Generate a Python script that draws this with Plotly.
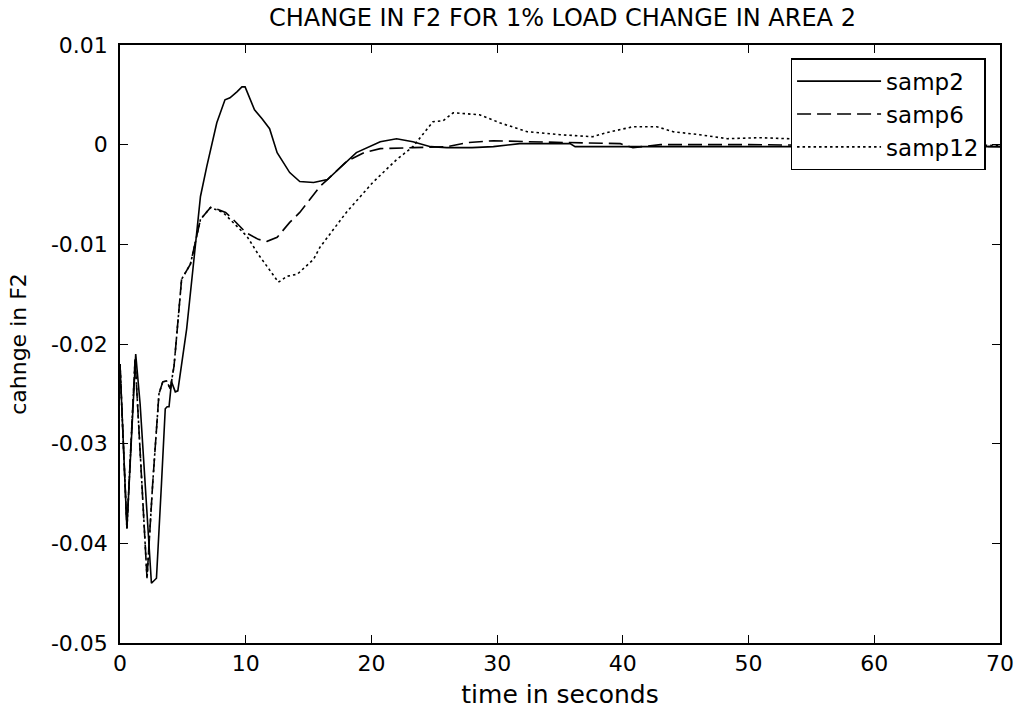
import plotly.graph_objects as go

# ---- data ----
t_samp2 = [0, 0.55, 1.25, 1.6, 2.5, 2.9, 3.3, 3.6, 3.75, 3.9, 4.1, 4.4, 4.6, 4.9, 5.3, 5.8, 6.4, 6.9, 7.7,
           8.35, 8.75, 9.3, 9.7, 9.95, 10.7, 11.3, 11.9, 12.5, 13.5, 14.3, 15.4, 16.5, 17.5, 18.8, 20.7,
           22.0, 23.3, 24.7, 26.0, 28.0, 29.7, 31.8, 35.8, 36.2, 40.8, 46, 50, 55, 60, 65, 70]
y_samp2 = [-0.022, -0.0385, -0.021, -0.026, -0.044, -0.0435, -0.034, -0.0265, -0.0263, -0.0263, -0.0238,
           -0.0248, -0.0247, -0.0218, -0.0185, -0.0125, -0.0052, -0.0022, 0.0022,
           0.0045, 0.0047, 0.0053, 0.0058, 0.0058, 0.0035, 0.0026, 0.0016, -0.0008, -0.0028, -0.0037, -0.0038,
           -0.0035, -0.0023, -0.0008, 0.0003,
           0.0006, 0.0003, -0.0002, -0.0003, -0.0003, -0.0002, 0.0001, 0.0001, -0.0002, -0.0002, -0.0002,
           -0.0002, -0.0002, -0.0002, -0.0002, -0.0002]

t_samp6 = [0, 0.55, 1.2, 2.15, 2.6, 3.1, 3.4, 3.7, 4.0, 4.3, 4.9, 5.6, 6.4, 7.2, 7.8, 8.4, 9.0, 10.0, 11.0,
           11.7, 12.5, 13.5, 14.3, 15.9, 16.5, 18.0, 19.4, 20.7, 23.3, 26.0, 27.6, 29.7, 32.4, 36.0, 39.8,
           40.8, 43.0, 50, 60, 70]
y_samp6 = [-0.022, -0.0385, -0.0215, -0.0435, -0.034, -0.025, -0.0238, -0.0237, -0.0245, -0.0222, -0.0135,
           -0.012, -0.0075, -0.0063, -0.0065, -0.0068, -0.0075, -0.0088, -0.0095,
           -0.0097, -0.0093, -0.0078, -0.0068, -0.0042, -0.0035, -0.0017, -0.0008, -0.0004, -0.0003, -0.0002,
           0.0002, 0.0004, 0.0003, 0.0002, 0.0001,
           -0.0003, 0.0, 0.0, -0.0001, -0.0002]

t_samp12 = [0, 0.55, 1.2, 2.15, 2.6, 3.1, 3.4, 3.7, 4.0, 4.3, 4.9, 5.6, 6.4, 7.2, 8.2, 9.0, 10.1, 11.0, 12.0,
            12.6, 13.3, 14.1, 15.4, 15.9, 18.0, 20.1, 22.0, 23.3, 24.9, 25.7, 26.5, 28.6, 30.2, 32.4, 35.0,
            37.6, 38.7, 40.8, 42.7, 44.0, 46.1, 48.3, 50.9, 55, 60, 65, 70]
y_samp12 = [-0.022, -0.0385, -0.0215, -0.0435, -0.034, -0.025, -0.0238, -0.0237, -0.0245, -0.0222, -0.0135,
            -0.012, -0.0075, -0.0063, -0.0068, -0.0078, -0.0092, -0.011, -0.0128,
            -0.0138, -0.0132, -0.013, -0.0115, -0.0103, -0.0068, -0.0038, -0.0015, -0.0002, 0.0023, 0.0024,
            0.0032, 0.003, 0.0022, 0.0013, 0.001,
            0.0008, 0.0012, 0.0018, 0.0018, 0.0013, 0.001, 0.0006, 0.0007, 0.0005, 0.0003, 0.0001, -0.0001]

x_tickvals = [0, 10, 20, 30, 40, 50, 60, 70]
x_ticktext = ["0", "10", "20", "30", "40", "50", "60", "70"]
y_tickvals = [0.01, 0, -0.01, -0.02, -0.03, -0.04, -0.05]
y_ticktext = ["0.01", "0", "-0.01", "-0.02", "-0.03", "-0.04", "-0.05"]

FONT = "DejaVu Sans, Verdana, sans-serif"

fig = go.Figure()
fig.add_trace(go.Scatter(x=t_samp2, y=y_samp2, mode="lines", name="samp2",
                         line=dict(color="black", width=1.6, dash="solid")))
fig.add_trace(go.Scatter(x=t_samp6, y=y_samp6, mode="lines", name="samp6",
                         line=dict(color="black", width=1.6, dash="14px,6px")))
fig.add_trace(go.Scatter(x=t_samp12, y=y_samp12, mode="lines", name="samp12",
                         line=dict(color="black", width=1.6, dash="2.5px,3px")))

axis_common = dict(showgrid=False, zeroline=False, showline=True, linecolor="black", linewidth=1.5,
                   mirror="ticks", ticks="inside", ticklen=8, tickwidth=1.2, tickcolor="black",
                   tickfont=dict(family=FONT, size=22, color="black"))

fig.update_layout(
    width=1032, height=716,
    margin=dict(l=120, r=32, t=45, b=69),
    paper_bgcolor="white", plot_bgcolor="white",
    title=dict(text="CHANGE IN F2 FOR 1% LOAD CHANGE IN AREA 2", x=0.545, xanchor="center",
               y=0.975, yanchor="middle", font=dict(family=FONT, size=24, color="black")),
    xaxis=dict(range=[0, 70], tickvals=x_tickvals, ticktext=x_ticktext,
               title=dict(text="time in seconds", font=dict(family=FONT, size=25, color="black"), standoff=10),
               **axis_common),
    yaxis=dict(range=[-0.05, 0.01], tickvals=y_tickvals, ticktext=y_ticktext, ticklabelstandoff=6,
               title=dict(text="cahnge in F2", font=dict(family=FONT, size=22, color="black"), standoff=18),
               **axis_common),
    legend=dict(x=0.762, y=0.978, xanchor="left", yanchor="top", bgcolor="white",
                bordercolor="black", borderwidth=1.5, itemwidth=84,
                font=dict(family=FONT, size=23, color="black"), tracegroupgap=0),
    showlegend=True,
)

fig.write_html("out.html")
